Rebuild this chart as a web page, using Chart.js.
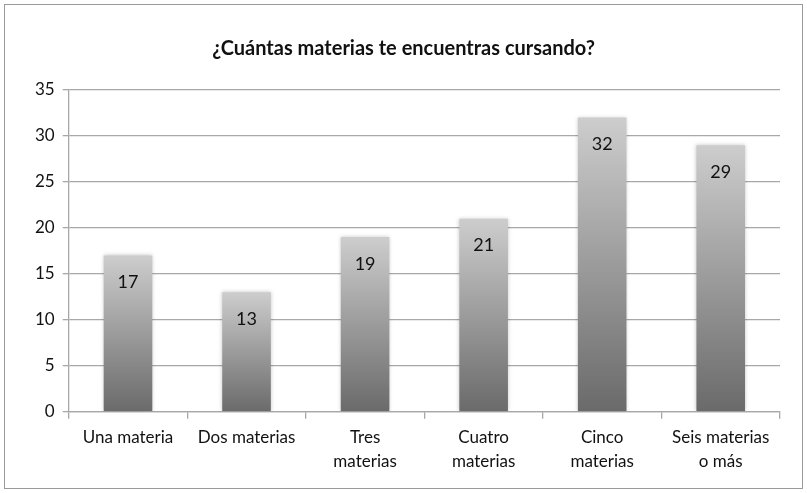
<!DOCTYPE html>
<html lang="es">
<head>
<meta charset="UTF-8">
<title>¿Cuántas materias te encuentras cursando?</title>
<script src="https://cdn.jsdelivr.net/npm/chart.js"></script>
<style>
  html, body { margin: 0; padding: 0; background: #fff; }
  .frame {
    position: absolute; left: 4px; top: 4px;
    width: 797px; height: 483px;
    border: 1px solid #9a9a9a;
  }
  .frame canvas { display: block; }
</style>
</head>
<body>
<div class="frame">
  <canvas id="chart" width="797" height="483"></canvas>
</div>
<script>
// data
const categories = [
  ['Una materia'],
  ['Dos materias'],
  ['Tres', 'materias'],
  ['Cuatro', 'materias'],
  ['Cinco', 'materias'],
  ['Seis materias', 'o más']
];
const counts = [17, 13, 19, 21, 32, 29];
const yTicks = [0, 5, 10, 15, 20, 25, 30, 35];

const FONT = 'Lato, "Open Sans", sans-serif';

// each bar gets its own gradient, light at its top and dark at the base
function barFill(context) {
  const chart = context.chart;
  const y = chart.scales.y;
  if (!chart.chartArea || !y || context.raw == null) return '#999';
  const top = y.getPixelForValue(context.raw);
  const g = chart.ctx.createLinearGradient(0, top, 0, y.getPixelForValue(0));
  g.addColorStop(0, '#cdcdcd');
  g.addColorStop(1, '#6a6a6a');
  return g;
}

// soft shadow round the bars
const barShadow = {
  id: 'barShadow',
  beforeDatasetsDraw(chart) {
    const ctx = chart.ctx;
    ctx.save();
    ctx.shadowColor = 'rgba(0,0,0,0.22)';
    ctx.shadowBlur = 4;
  },
  afterDatasetsDraw(chart) {
    chart.ctx.restore();
  }
};

// value labels inside the top of each bar
const insideLabels = {
  id: 'insideLabels',
  afterDatasetsDraw(chart) {
    const ctx = chart.ctx;
    const meta = chart.getDatasetMeta(0);
    ctx.save();
    ctx.font = '18px ' + FONT;
    ctx.fillStyle = '#111';
    ctx.textAlign = 'center';
    ctx.textBaseline = 'middle';
    meta.data.forEach((bar, i) => {
      ctx.fillText(String(counts[i]), bar.x, bar.y + 27);
    });
    ctx.restore();
  }
};

new Chart(document.getElementById('chart'), {
  type: 'bar',
  data: {
    labels: categories,
    datasets: [{
      data: counts,
      backgroundColor: barFill,
      borderWidth: 0,
      barPercentage: 0.41,
      categoryPercentage: 1
    }]
  },
  options: {
    responsive: false,
    animation: false,
    layout: { padding: { left: 22, right: 22, top: 6, bottom: 8 } },
    plugins: {
      legend: { display: false },
      tooltip: { enabled: false },
      title: {
        display: true,
        text: '¿Cuántas materias te encuentras cursando?',
        color: '#111',
        font: { family: FONT, size: 20, weight: 'bold' },
        padding: { top: 26, bottom: 29 }
      }
    },
    scales: {
      y: {
        min: 0,
        max: 35,
        afterBuildTicks(axis) { axis.ticks = yTicks.map(v => ({ value: v })); },
        ticks: {
          color: '#111',
          font: { family: FONT, size: 17 },
          padding: 8
        },
        grid: { color: '#a8a8a8', lineWidth: 1.3, tickLength: 6, tickColor: '#a8a8a8' },
        border: { color: '#a8a8a8', width: 1.3 }
      },
      x: {
        ticks: {
          color: '#111',
          font: { family: FONT, size: 17, lineHeight: 1.45 },
          maxRotation: 0,
          autoSkip: false,
          padding: 6
        },
        grid: {
          offset: true,
          drawOnChartArea: false,
          tickLength: 7,
          color: '#a8a8a8',
          lineWidth: 1.3
        },
        border: { color: '#a8a8a8', width: 1.3 }
      }
    }
  },
  plugins: [barShadow, insideLabels]
});
</script>
</body>
</html>
